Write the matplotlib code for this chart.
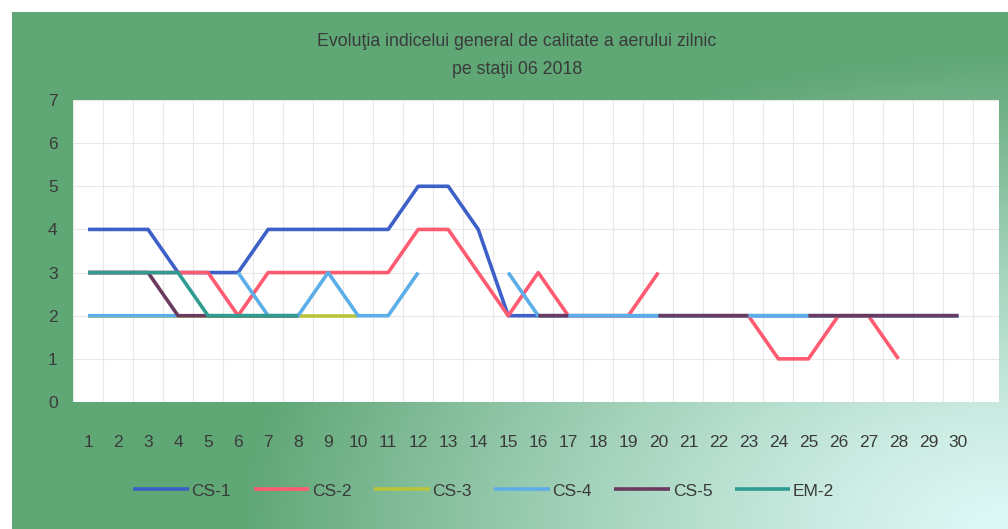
import numpy as np
import matplotlib
matplotlib.use("Agg")
import matplotlib.pyplot as plt

nan = np.nan
days = list(range(1, 31))
cs1 = [4, 4, 4, 3, 3, 3, 4, 4, 4, 4, 4, 5, 5, 4, 2, 2, 2, 2, 2, 2, 2, 2, 2, 2, 2, 2, 2, 2, 2, 2]
cs2 = [3, 3, 3, 3, 3, 2, 3, 3, 3, 3, 3, 4, 4, 3, 2, 3, 2, 2, 2, 3, nan, 2, 2, 1, 1, 2, 2, 1, nan, nan]
cs3 = [2, 2, 2, 2, 2, 2, 2, 2, 2, 2] + [nan] * 20
cs4 = [2, 2, 2, 2, nan, 3, 2, 2, 3, 2, 2, 3, nan, nan, 3, 2, 2, 2, 2, 2, 2, 2, 2, 2, 2, 2, 2, 2, 2, 2]
cs5 = [3, 3, 3, 2, 2, 2, 2, 2] + [nan] * 7 + [2, 2, nan, nan, 2, 2, 2, 2, nan, 2, 2, 2, 2, 2, 2]
em2 = [3, 3, 3, 3, 2, 2, 2, 2] + [nan] * 22

series = [("CS-1", cs1, "#3c60c8"), ("CS-2", cs2, "#ff5b70"), ("CS-3", cs3, "#b8c43a"),
          ("CS-4", cs4, "#5caee8"), ("CS-5", cs5, "#6a3b5f"), ("EM-2", em2, "#2f9c92")]

plt.rcParams["font.family"] = ["Liberation Sans", "DejaVu Sans"]
W, H = 1008, 529
fig = plt.figure(figsize=(W / 100, H / 100), dpi=100, facecolor="white")

# gradient background: green, fading to pale cyan toward bottom-right
bx0, by0 = 12, 12
bg = fig.add_axes([bx0 / W, 0, 1 - bx0 / W, 1 - by0 / H], zorder=0)
xx, yy = np.meshgrid(np.arange(bx0, W), np.arange(by0, H))
r = np.sqrt(((W - xx) / 760) ** 2 + ((H - yy) / 470) ** 2)
t = np.clip(r, 0, 1) ** 1.3
green = np.array([97, 167, 119]) / 255
light = np.array([222, 248, 246]) / 255
img = light[None, None, :] * (1 - t[..., None]) + green[None, None, :] * t[..., None]
bg.imshow(img, aspect="auto", extent=[0, 1, 0, 1])
bg.axis("off")

ax = fig.add_axes([73 / W, 1 - 402 / H, (999 - 73) / W, (402 - 100) / H], zorder=1)
ax.set_facecolor("white")
for name, vals, col in series:
    ax.plot(days, vals, color=col, lw=2.6, label=name, solid_capstyle="butt")

ax.set_xlim(0.5, 31.35)
ax.set_ylim(0, 7)
ax.set_xticks(days)
ax.set_yticks(range(0, 8))
ax.set_xticks(np.arange(0.5, 31, 1), minor=True)
ax.grid(True, which="minor", axis="x", color="#e8e8e8", lw=0.8)
ax.grid(True, which="major", axis="y", color="#e8e8e8", lw=0.8)
ax.tick_params(axis="both", which="both", length=0, labelsize=12.5, labelcolor="#3a3a3a")
ax.tick_params(axis="x", pad=24)
ax.tick_params(axis="y", pad=11)
for s in ax.spines.values():
    s.set_visible(False)

fig.text(0.513, 1 - 42 / H, "Evoluţia indicelui general de calitate a aerului zilnic",
         ha="center", va="center", fontsize=12.8, color="#3a3a3a")
fig.text(0.513, 1 - 69 / H, "pe staţii 06 2018",
         ha="center", va="center", fontsize=12.8, color="#3a3a3a")

fig.legend(loc="center", bbox_to_anchor=(0.48, 1 - 491 / H), ncol=6, frameon=False,
           fontsize=12.5, handlelength=3.2, handletextpad=0.15, columnspacing=1.3,
           labelcolor="#3a3a3a")

fig.savefig("out.png", dpi=100)
